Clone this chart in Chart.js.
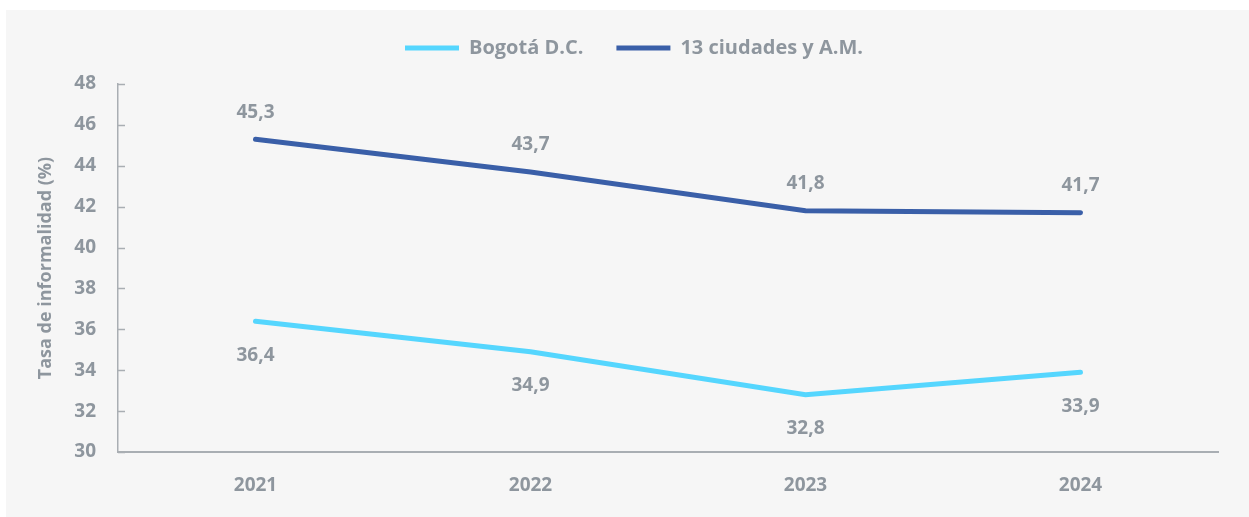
<!DOCTYPE html>
<html>
<head>
<meta charset="utf-8">
<script src="https://cdn.jsdelivr.net/npm/chart.js@4.4.1/dist/chart.umd.min.js"></script>
<style>
  html, body { margin: 0; padding: 0; background: #ffffff; }
  #panel {
    position: absolute; left: 6px; top: 10px;
    width: 1243px; height: 507px;
    background: #f6f6f6;
  }
</style>
</head>
<body>
<div id="panel"><canvas id="chart"></canvas></div>
<script>
// datos
const years = ["2021", "2022", "2023", "2024"];
const bogota = [36.4, 34.9, 32.8, 33.9];
const ciudades13 = [45.3, 43.7, 41.8, 41.7];
const yTicks = [30, 32, 34, 36, 38, 40, 42, 44, 46, 48];

const GRAY_TEXT = "#8e969e";
const AXIS_COLOR = "#a9aeb3";
const FONT = "'Open Sans', Lato, sans-serif";

// etiquetas de valor: arriba para 13 ciudades, abajo para Bogotá
const valueLabels = {
  id: "valueLabels",
  afterDatasetsDraw(chart) {
    const ctx = chart.ctx;
    ctx.save();
    ctx.font = `bold 19px ${FONT}`;
    ctx.fillStyle = GRAY_TEXT;
    ctx.textAlign = "center";
    ctx.textBaseline = "middle";
    chart.data.datasets.forEach((ds, i) => {
      const meta = chart.getDatasetMeta(i);
      const offset = ds.labelPos === "above" ? -27 : 34;
      meta.data.forEach((pt, j) => {
        const txt = ds.data[j].toFixed(1).replace(".", ",");
        ctx.fillText(txt, pt.x, pt.y + offset);
      });
    });
    ctx.restore();
  }
};

// marcas del eje y hacia adentro
const innerTicks = {
  id: "innerTicks",
  afterDraw(chart) {
    const y = chart.scales.y;
    const ctx = chart.ctx;
    ctx.save();
    ctx.strokeStyle = AXIS_COLOR;
    ctx.lineWidth = 1.5;
    y.ticks.forEach(t => {
      const py = Math.round(y.getPixelForValue(t.value)) + 0.5;
      ctx.beginPath();
      ctx.moveTo(y.right, py);
      ctx.lineTo(y.right + 7, py);
      ctx.stroke();
    });
    ctx.restore();
  }
};

// más espacio debajo de la leyenda, y leyenda un poco a la derecha / arriba
const legendGap = {
  id: "legendGap",
  beforeInit(chart) {
    const fit = chart.legend.fit;
    chart.legend.fit = function () {
      fit.bind(chart.legend)();
      this.height += 11;
      if (this.lineWidths && this.lineWidths.length) this.lineWidths[0] -= 44;
    };
  },
  afterLayout(chart) {
    chart.legend.top -= 5;
    chart.legend.bottom -= 5;
  }
};

const ctx = document.getElementById("chart").getContext("2d");
new Chart(ctx, {
  type: "line",
  data: {
    labels: years,
    datasets: [
      {
        label: "Bogotá D.C.",
        data: bogota,
        borderColor: "#55d6fe",
        backgroundColor: "#55d6fe",
        borderWidth: 5,
        borderCapStyle: "round",
        pointRadius: 0,
        pointStyle: "line",
        tension: 0,
        labelPos: "below"
      },
      {
        label: "13 ciudades y A.M.",
        data: ciudades13,
        borderColor: "#3a5fa8",
        backgroundColor: "#3a5fa8",
        borderWidth: 5,
        borderCapStyle: "round",
        pointRadius: 0,
        pointStyle: "line",
        tension: 0,
        labelPos: "above"
      }
    ]
  },
  options: {
    responsive: true,
    maintainAspectRatio: false,
    animation: false,
    layout: { padding: { left: 0, right: 31, top: 0, bottom: 0 } },
    plugins: {
      legend: {
        position: "top",
        align: "center",
        labels: {
          usePointStyle: true,
          pointStyleWidth: 54,
          boxHeight: 5,
          padding: 33,
          color: GRAY_TEXT,
          font: { family: FONT, size: 20, weight: "bold" }
        }
      },
      tooltip: { enabled: false }
    },
    scales: {
      x: {
        offset: true,
        grid: { display: false, drawTicks: false },
        border: { display: true, color: AXIS_COLOR, width: 2 },
        ticks: {
          padding: 22,
          color: GRAY_TEXT,
          font: { family: FONT, size: 19, weight: "bold" }
        },
        afterFit(scale) { scale.height = 65; }
      },
      y: {
        min: 30,
        max: 48,
        afterBuildTicks(scale) { scale.ticks = yTicks.map(v => ({ value: v })); },
        grid: { display: false, drawTicks: false },
        border: { display: true, color: AXIS_COLOR, width: 1.5 },
        ticks: {
          padding: 22,
          color: GRAY_TEXT,
          font: { family: FONT, size: 19, weight: "bold" }
        },
        title: {
          display: true,
          text: "Tasa de informalidad (%)",
          color: GRAY_TEXT,
          font: { family: FONT, size: 18, weight: "bold" },
          padding: { top: 29, bottom: 0 }
        },
        afterFit(scale) { scale.width = 112; }
      }
    }
  },
  plugins: [valueLabels, innerTicks, legendGap]
});
</script>
</body>
</html>
